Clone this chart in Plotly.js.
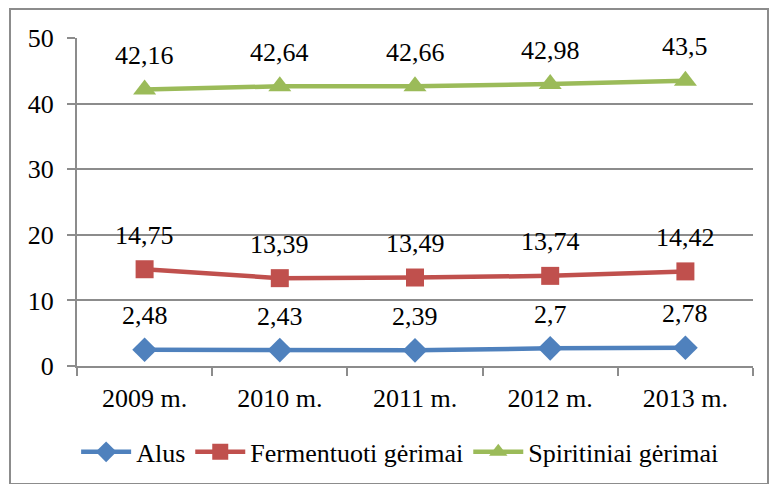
<!DOCTYPE html>
<html><head><meta charset="utf-8">
<script src="https://cdn.plot.ly/plotly-3.0.1.min.js"></script>
<style>body{margin:0;background:#fff}#wrap{position:relative;width:770px;height:484px}
#frame{position:absolute;left:9px;top:8px;width:756px;height:473px;border:2px solid #8c8c8c;pointer-events:none}</style>
</head><body><div id="wrap"><div id="chart" style="width:770px;height:484px"></div><div id="frame"></div></div>
<script>
const categories = ["2009 m.","2010 m.","2011 m.","2012 m.","2013 m."];
const alus = [2.48,2.43,2.39,2.7,2.78];
const fermentuoti = [14.75,13.39,13.49,13.74,14.42];
const spiritiniai = [42.16,42.64,42.66,42.98,43.5];
const seriesNames = ["Alus","Fermentuoti gėrimai","Spiritiniai gėrimai"];
const colors = ["#4F81BD","#C0504D","#9BBB59"];
const symbols = ["diamond","square","triangle-up"];
const sizes = [19,18,20];
const allData = [alus, fermentuoti, spiritiniai];
const font = {family:"Liberation Serif, serif", size:26, color:"#000"};
const traces = allData.map((d,i)=>({
  x: categories, y: d, type:"scatter", mode:"lines+markers", name: seriesNames[i],
  line:{color:colors[i], width:4.5}, marker:{symbol:symbols[i], size:sizes[i], color:colors[i]}
}));
const fmt = v => String(v).replace(".", ",");
const annotations = [];
allData.forEach(d => d.forEach((v,j)=>{
  annotations.push({x:categories[j], y:v, text:fmt(v), showarrow:false, yshift:34, font:font});
}));
Plotly.newPlot("chart", traces, {
  width:770, height:484,
  margin:{l:77, r:17, t:38, b:118, autoexpand:false},
  paper_bgcolor:"#fff", plot_bgcolor:"#fff",
  font: font,
  showlegend:true,
  legend:{orientation:"h", x:0.478, xanchor:"center", y:-0.262, yanchor:"middle", font:font, itemwidth:50, tracegroupgap:0},
  xaxis:{type:"category", range:[-0.5,4.5], autorange:false, tickson:"boundaries", ticks:"outside", ticklen:8, tickcolor:"#8c8c8c", tickwidth:2,
    showline:true, linecolor:"#8c8c8c", linewidth:2, showgrid:false, tickfont:font, automargin:false, ticklabelstandoff:8},
  yaxis:{range:[0,50], autorange:false, dtick:10, ticks:"outside", ticklen:8, tickcolor:"#8c8c8c", tickwidth:2,
    showline:true, linecolor:"#8c8c8c", linewidth:2, showgrid:true, gridcolor:"#8c8c8c", gridwidth:2,
    zeroline:false, tickfont:font, ticklabelstandoff:8, automargin:false},
  annotations: annotations
}, {staticPlot:true});
</script></body></html>
